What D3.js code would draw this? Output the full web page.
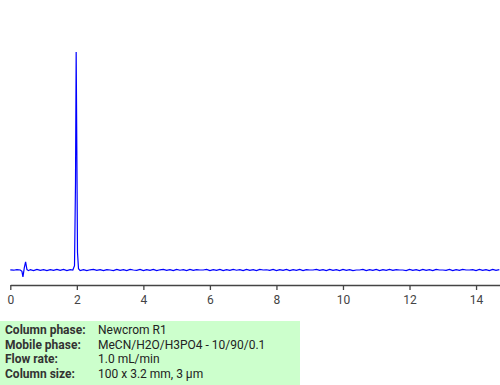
<!DOCTYPE html>
<html>
<head>
<meta charset="utf-8">
<script src="https://cdn.jsdelivr.net/npm/d3@7"></script>
<style>
  body { margin: 0; background: #fff; }
  svg { display: block; font-family: Roboto, "Liberation Sans", sans-serif; }
</style>
</head>
<body>
<div id="chart"></div>
<script>
// Chart size
var svgWidth = 500;
var svgHeight = 385;

// Retention times (min) and detector signal (arbitrary units)
var times = [0.0, 0.1, 0.2, 0.3, 0.35, 0.38, 0.42, 0.46, 0.5, 0.55,
    0.6, 0.7, 0.8, 0.9, 1.0, 1.1, 1.2, 1.3, 1.4, 1.5,
    1.6, 1.7, 1.8, 1.88, 1.93, 1.96, 1.98, 2.0, 2.02, 2.05, 2.1];
var signal = [0.1, -0.1, 0.2, 0.0, -0.6, -3.2, 1.0, 3.7, 0.2, -0.3,
    0.2, -0.3, 0.3, -0.2, 0.2, -0.3, 0.2, -0.2, 0.3, -0.2,
    0.3, -0.3, 0.2, 0.0, 2.0, 40, 100, 55, 8, 0.6, -0.3];

// Baseline after the peak, one value every 0.1 min from 2.2 to 14.7
var baselineStart = 2.2;
var baselineValues = [0.2, -0.3, 0.1, 0.3, -0.2, 0.2, -0.3, 0.2, 0.0, -0.3,
    0.3, -0.2, 0.2, -0.3, 0.3, 0.0, -0.2, 0.3, -0.3, 0.2,
    -0.2, 0.3, -0.3, 0.1, 0.3, -0.2, 0.2, -0.3, 0.3, -0.1,
    0.2, -0.3, 0.3, -0.2, 0.2, 0.0, 0.0, 0.3, -0.3, 0.2,
    -0.2, 0.3, -0.3, 0.2, -0.2, 0.3, -0.1, 0.2, -0.3, 0.3,
    -0.2, 0.2, -0.3, 0.3, 0.0, 0.1, -0.2, 0.3, -0.3, 0.2,
    -0.2, 0.3, -0.3, 0.2, -0.2, 0.3, -0.3, 0.2, 0.0, 0.0,
    0.3, -0.2, 0.2, -0.3, 0.3, -0.2, 0.2, -0.3, 0.3, -0.2,
    0.2, -0.3, 0.0, 0.0, 0.3, -0.3, 0.2, -0.2, 0.3, -0.3,
    0.2, -0.2, 0.3, -0.2, 0.2, 0.0, 0.0, -0.3, 0.3, -0.2,
    0.2, -0.3, 0.3, -0.2, 0.2, -0.3, 0.3, 0.0, 0.0, -0.2,
    0.3, -0.3, 0.2, -0.2, 0.3, 0.0, 0.0, 0.2, -0.3, 0.3,
    -0.2, 0.2, -0.3, 0.3, -0.2, 0.2];

var xTicks = [0, 2, 4, 6, 8, 10, 12, 14];

// Method conditions shown in the box under the chart
var infoLabels = ["Column phase:", "Mobile phase:", "Flow rate:", "Column size:"];
var infoValues = ["Newcrom R1", "MeCN/H2O/H3PO4 - 10/90/0.1", "1.0 mL/min", "100 x 3.2 mm, 3 \u00b5m"];

// Build the trace points
var trace = times.map((t, i) => ({ t: t, v: signal[i] }));
baselineValues.forEach(function(v, i) {
    trace.push({ t: +(baselineStart + i * 0.1).toFixed(2), v: v });
});

var svg = d3.select("#chart")
    .append("svg")
    .attr("width", svgWidth)
    .attr("height", svgHeight);

// Scales
var xScale = d3.scaleLinear()
    .domain([0, 14.72])
    .range([10.3, 500]);

var yScale = d3.scaleLinear()
    .domain([0, 100])
    .range([270, 52]);

// Trace
var line = d3.line()
    .x(d => xScale(d.t))
    .y(d => yScale(d.v));

svg.append("path")
    .datum(trace)
    .attr("fill", "none")
    .attr("stroke", "#0000ff")
    .attr("stroke-width", 1.2)
    .attr("d", line);

// X axis
var xAxis = svg.append("g")
    .attr("transform", "translate(0, 285)")
    .call(d3.axisBottom(xScale)
        .tickValues(xTicks)
        .tickSize(5)
        .tickSizeOuter(0)
        .tickFormat(d3.format("d")));

xAxis.select(".domain").attr("stroke", "#444").attr("stroke-width", 1.3);
xAxis.selectAll(".tick line").attr("stroke", "#444").attr("stroke-width", 1.3);
xAxis.selectAll(".tick text")
    .attr("fill", "#444")
    .attr("font-size", 12)
    .attr("font-family", "Roboto, sans-serif")
    .attr("dy", "0.9em");

// Info box
var info = svg.append("g");

info.append("rect")
    .attr("x", 0)
    .attr("y", 321)
    .attr("width", 300)
    .attr("height", 64)
    .attr("fill", "#ccffcc");

info.selectAll(".info-label")
    .data(infoLabels)
    .enter()
    .append("text")
    .attr("class", "info-label")
    .attr("x", 5)
    .attr("y", (d, i) => 334 + i * 14.6)
    .attr("font-size", 12)
    .attr("font-weight", "bold")
    .attr("fill", "#333")
    .text(d => d);

info.selectAll(".info-value")
    .data(infoValues)
    .enter()
    .append("text")
    .attr("class", "info-value")
    .attr("x", 98)
    .attr("y", (d, i) => 334 + i * 14.6)
    .attr("font-size", 12)
    .attr("fill", "#222")
    .text(d => d);
</script>
</body>
</html>
